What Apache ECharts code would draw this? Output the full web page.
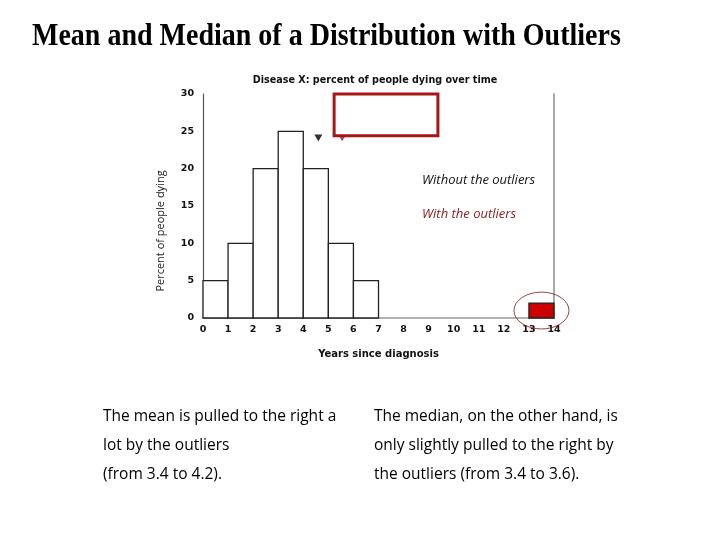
<!DOCTYPE html>
<html>
<head>
<meta charset="utf-8">
<script src="https://cdn.jsdelivr.net/npm/echarts@6/dist/echarts.min.js"></script>
<style>
html, body { margin: 0; padding: 0; background: #fff; }
#chart { width: 720px; height: 540px; }
</style>
</head>
<body>
<div id="chart"></div>
<script>
// histogram bins: [start, end, percent]
var bins = [[0, 1, 5], [1, 2, 10], [2, 3, 20], [3, 4, 25], [4, 5, 20], [5, 6, 10], [6, 7, 5]];
var outlierBins = [[13, 14, 2]];
var yTicks = [0, 5, 10, 15, 20, 25, 30];
var xTicks = [0, 1, 2, 3, 4, 5, 6, 7, 8, 9, 10, 11, 12, 13, 14];
// markers at top of the plot (x, y)
var meanMarker = [4.6, 24.1];
var calloutBox = [[5.23, 30.1], [9.37, 24.4]];
var calloutTip = [5.55, 24.0];

var leftText = ['The mean is pulled to the right a', 'lot by the outliers', '(from 3.4 to 4.2).'];
var rightText = ['The median, on the other hand, is', 'only slightly pulled to the right by', 'the outliers (from 3.4 to 3.6).'];

var chart = echarts.init(document.getElementById('chart'));
var tickFont = { fontFamily: 'DejaVu Sans', fontWeight: 'bold', fontSize: 9.5, color: '#111' };

function binItem(fill, ellipse) {
  return function (params, api) {
    var p0 = api.coord([api.value(0), api.value(2)]);
    var p1 = api.coord([api.value(1), 0]);
    var rect = {
      type: 'rect',
      shape: { x: p0[0], y: p0[1], width: p1[0] - p0[0], height: p1[1] - p0[1] },
      style: { fill: fill, stroke: '#222', lineWidth: 1.3 }
    };
    if (!ellipse) return rect;
    var cx = (p0[0] + p1[0]) / 2, cy = (p0[1] + p1[1]) / 2;
    return {
      type: 'group',
      children: [rect, {
        type: 'circle',
        x: cx, y: cy, scaleY: 0.67,
        shape: { cx: 0, cy: 0, r: 27.5 },
        style: { fill: null, stroke: '#8b1a1a', lineWidth: 1, strokeNoScale: true }
      }]
    };
  };
}

// bottom text, one element per line
var lineYs = [417, 446, 475];
var bodyFont = '15.5px "Open Sans", sans-serif';
var textEls = [];
leftText.forEach(function (t, i) {
  textEls.push({ type: 'text', x: 103, y: lineYs[i], style: { text: t, font: bodyFont, fill: '#000', verticalAlign: 'middle' } });
});
rightText.forEach(function (t, i) {
  textEls.push({ type: 'text', x: 374, y: lineYs[i], style: { text: t, font: bodyFont, fill: '#000', verticalAlign: 'middle' } });
});

chart.setOption({
  animation: false,
  title: {
    text: 'Disease X: percent of people dying over time',
    left: 370, top: 70, textAlign: 'center',
    textStyle: { fontFamily: 'DejaVu Sans', fontWeight: 'bold', fontSize: 9.6, color: '#111' }
  },
  grid: { left: 203, top: 94, width: 351, height: 224 },
  xAxis: {
    type: 'value', min: 0, max: 14, interval: 1,
    name: 'Years since diagnosis', nameLocation: 'middle', nameGap: 31,
    nameTextStyle: { fontFamily: 'DejaVu Sans', fontWeight: 'bold', fontSize: 10, color: '#111' },
    axisLine: { lineStyle: { color: '#999', width: 1.5 } },
    axisTick: { show: false },
    splitLine: { show: false },
    axisLabel: Object.assign({ margin: 7, formatter: function (v) { return xTicks.indexOf(v) >= 0 ? v : ''; } }, tickFont)
  },
  yAxis: [{
    type: 'value', min: 0, max: 30, interval: 5,
    axisLine: { show: true, lineStyle: { color: '#555', width: 1.2 } },
    axisTick: { show: false },
    splitLine: { show: false },
    axisLabel: Object.assign({ margin: 9, formatter: function (v) { return yTicks.indexOf(v) >= 0 ? v : ''; } }, tickFont)
  }, {
    type: 'value', min: 0, max: 30, position: 'right',
    axisLine: { show: true, lineStyle: { color: '#aaa', width: 2 } },
    axisTick: { show: false }, axisLabel: { show: false }, splitLine: { show: false }
  }],
  series: [{
    type: 'custom',
    renderItem: binItem('#fff', false),
    encode: { x: [0, 1], y: 2 },
    data: bins,
    z: 2
  }, {
    type: 'custom',
    renderItem: binItem('#cc0000', true),
    encode: { x: [0, 1], y: 2 },
    data: outlierBins,
    z: 3
  }, {
    type: 'scatter',
    symbol: 'triangle', symbolRotate: 180, symbolSize: [8, 7],
    itemStyle: { color: '#000' },
    data: [meanMarker],
    z: 4
  }, {
    type: 'scatter',
    symbol: 'triangle', symbolRotate: 180, symbolSize: [6, 5],
    itemStyle: { color: '#a5161a' },
    data: [calloutTip],
    markArea: {
      silent: true,
      itemStyle: { color: 'rgba(0,0,0,0)', borderColor: '#a5161a', borderWidth: 3 },
      data: [[{ coord: calloutBox[0] }, { coord: calloutBox[1] }]]
    },
    z: 4
  }],
  graphic: [{
    type: 'text', x: 32, y: 37, scaleY: 1.15,
    style: { text: 'Mean and Median of a Distribution with Outliers', font: 'bold 28px "Liberation Serif", "Times New Roman", serif', fill: '#000', verticalAlign: 'middle' }
  }, {
    type: 'text', x: 161, y: 231, rotation: Math.PI / 2,
    style: { text: 'Percent of people dying', font: '11px "Open Sans", sans-serif', fill: '#222', align: 'center', verticalAlign: 'middle' }
  }, {
    type: 'text', x: 422, y: 180,
    style: { text: 'Without the outliers', font: 'italic 13px "Open Sans", sans-serif', fill: '#111', verticalAlign: 'middle' }
  }, {
    type: 'text', x: 422, y: 214,
    style: { text: 'With the outliers', font: 'italic 13px "Open Sans", sans-serif', fill: '#8b1a1a', verticalAlign: 'middle' }
  }].concat(textEls)
});
</script>
</body>
</html>
